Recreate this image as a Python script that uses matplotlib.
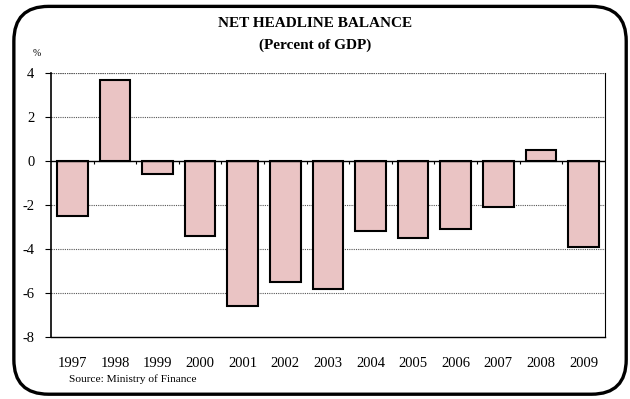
import matplotlib
matplotlib.use("Agg")
import matplotlib.pyplot as plt
import numpy as np
from matplotlib.patches import FancyBboxPatch

years = ["1997", "1998", "1999", "2000", "2001", "2002", "2003",
         "2004", "2005", "2006", "2007", "2008", "2009"]
balance = [-2.5, 3.7, -0.6, -3.4, -6.6, -5.5, -5.8,
           -3.2, -3.5, -3.1, -2.1, 0.5, -3.9]
yticks = [-8, -6, -4, -2, 0, 2, 4]

plt.rcParams["font.family"] = ["Liberation Serif", "DejaVu Serif"]

fig = plt.figure(figsize=(6.3, 3.99), dpi=100)
fig.patches.append(FancyBboxPatch(
    (0.022, 0.012), 0.972, 0.972, boxstyle="round,pad=0,rounding_size=0.055",
    transform=fig.transFigure, fill=False, edgecolor="black", linewidth=2.4,
    mutation_aspect=630 / 399))

ax = fig.add_axes([0.081, 0.155, 0.879, 0.662])
x = np.arange(len(years))
ax.bar(x, balance, width=0.72, color="#EAC4C4", edgecolor="black",
       linewidth=1.5, zorder=3)

ax.set_xlim(-0.5, len(years) - 0.5)
ax.set_ylim(-8, 4)
ax.set_yticks(yticks)
ax.set_yticklabels([str(v) for v in yticks], fontsize=10.5)
for v in yticks:
    if v not in (0, -8):
        ax.axhline(v, color="#555555", linestyle=(0, (1, 1)), linewidth=0.8,
                   zorder=1)
ax.axhline(0, color="black", linewidth=1.0, zorder=4)

# small tick marks between categories on the zero line
bounds = x[:-1] + 0.5
ax.vlines(bounds, -0.15, 0, color="black", linewidth=0.8, zorder=4)

ax.set_xticks(x)
ax.set_xticklabels(years, fontsize=10.5)
ax.tick_params(axis="x", length=0, pad=14)
ax.tick_params(axis="y", length=4, width=0.8, pad=8)

ax.spines["left"].set_linewidth(1.2)
ax.spines["bottom"].set_linewidth(1.0)
ax.spines["right"].set_linewidth(0.8)
ax.spines["top"].set_visible(False)
ax.axhline(4, color="#555555", linestyle=(0, (1, 1)), linewidth=0.8, zorder=1)

fig.text(0.5, 0.94, "NET HEADLINE BALANCE", ha="center", va="center",
         fontsize=11, fontweight="bold")
fig.text(0.5, 0.887, "(Percent of GDP)", ha="center", va="center",
         fontsize=11, fontweight="bold")
fig.text(0.059, 0.867, "%", ha="center", va="center", fontsize=7)
fig.text(0.11, 0.05, "Source: Ministry of Finance", ha="left", va="center",
         fontsize=8.2)

fig.savefig("out.png", dpi=100)
